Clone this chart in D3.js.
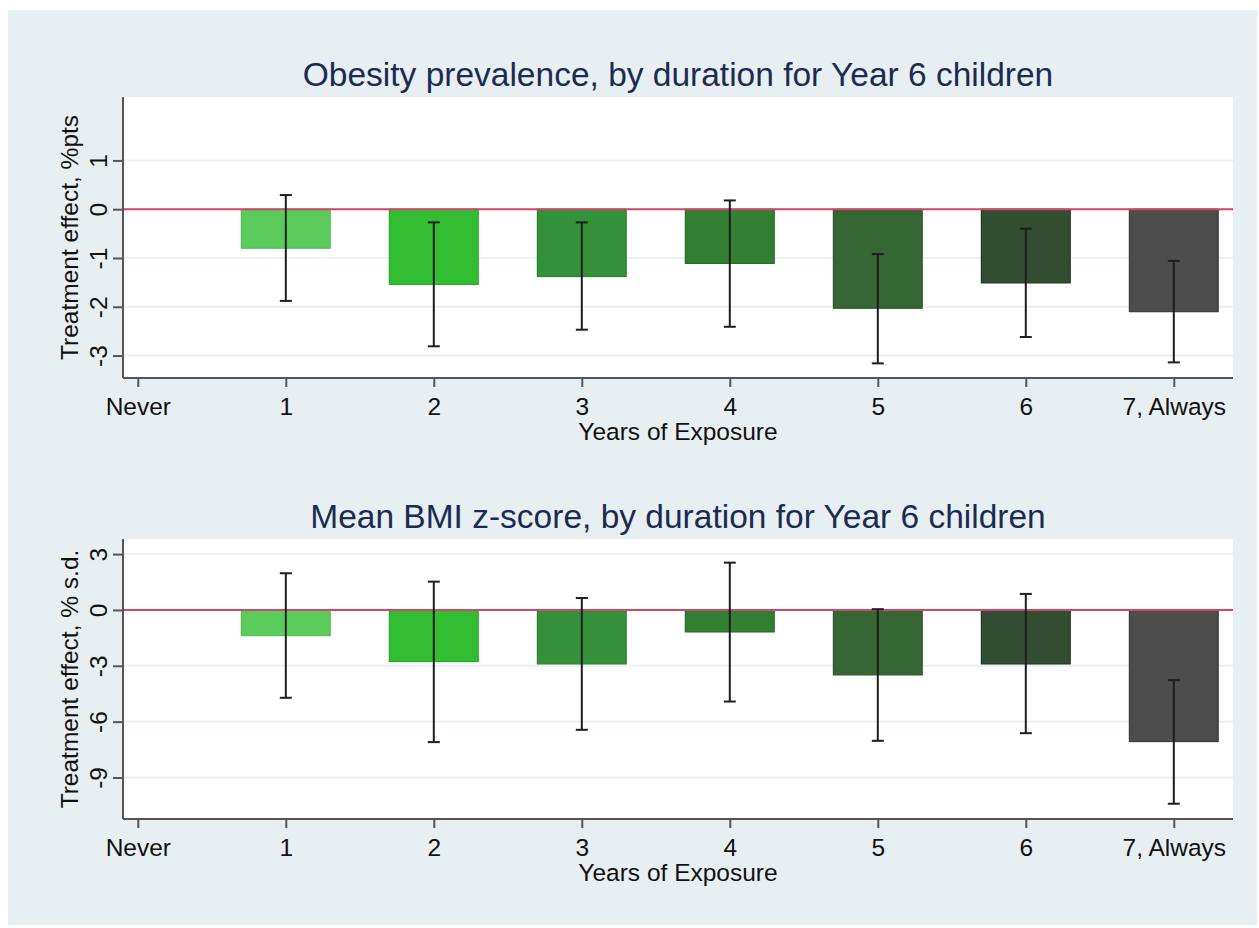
<!DOCTYPE html>
<html>
<head>
<meta charset="utf-8">
<script src="https://cdn.jsdelivr.net/npm/d3@7"></script>
<style>
  html, body { margin: 0; padding: 0; background: #ffffff; }
  text { font-family: "Liberation Sans", Arial, sans-serif; }
</style>
</head>
<body>
<div id="chart"></div>
<script>
// categories on the x axis (0 = Never ... 7 = Always)
var xTickValues = [0, 1, 2, 3, 4, 5, 6, 7];
var xTickLabels = ["Never", "1", "2", "3", "4", "5", "6", "7, Always"];
var years = [1, 2, 3, 4, 5, 6, 7];

// panel 1: obesity prevalence, %pts
var obesityEffect = [-0.80, -1.54, -1.38, -1.11, -2.03, -1.51, -2.10];
var obesityLow    = [-1.88, -2.81, -2.47, -2.41, -3.16, -2.62, -3.14];
var obesityHigh   = [ 0.29, -0.27, -0.27,  0.18, -0.92, -0.40, -1.06];
var obesityTicks  = [1, 0, -1, -2, -3];

// panel 2: mean BMI z-score, % s.d.
var bmiEffect = [-1.38, -2.77, -2.90, -1.18, -3.49, -2.90, -7.07];
var bmiLow    = [-4.72, -7.10, -6.44, -4.92, -7.03, -6.62, -10.41];
var bmiHigh   = [ 1.97,  1.52,  0.64,  2.54,  0.04,  0.86, -3.77];
var bmiTicks  = [3, 0, -3, -6, -9];

var barFill   = ["#5bcb5b", "#33bd33", "#33913a", "#337f33", "#356634", "#334d33", "#4d4d4d"];
var barStroke = ["#52c252", "#22ad22", "#2a8530", "#1f6e1f", "#2a5a2a", "#1f351f", "#3d3d3d"];

var width = 1259, height = 928;
var labelSize = "24.5px";

var svg = d3.select("#chart").append("svg")
    .attr("width", width)
    .attr("height", height);

svg.append("rect")
    .attr("x", 8).attr("y", 10)
    .attr("width", 1249).attr("height", 915)
    .attr("fill", "#e8eff2");

var x = d3.scaleLinear().domain([-0.1, 7.4]).range([123, 1233]);
var barW = x(0.6) - x(0);

var panels = [
  { title: "Obesity prevalence, by duration for Year 6 children",
    ytitle: "Treatment effect, %pts",
    top: 97, bottom: 378, domain: [-3.46, 2.3], ticks: obesityTicks,
    effect: obesityEffect, lo: obesityLow, hi: obesityHigh },
  { title: "Mean BMI z-score, by duration for Year 6 children",
    ytitle: "Treatment effect, % s.d.",
    top: 539, bottom: 819, domain: [-11.23, 3.81], ticks: bmiTicks,
    effect: bmiEffect, lo: bmiLow, hi: bmiHigh }
];

panels.forEach(function(p) {
  var y = d3.scaleLinear().domain(p.domain).range([p.bottom, p.top]);
  var g = svg.append("g");

  g.append("rect")
      .attr("x", x.range()[0]).attr("y", p.top)
      .attr("width", x.range()[1] - x.range()[0])
      .attr("height", p.bottom - p.top)
      .attr("fill", "#ffffff");

  // gridlines
  g.selectAll("line.grid").data(p.ticks).enter()
    .append("line")
      .attr("class", "grid")
      .attr("x1", x.range()[0]).attr("x2", x.range()[1])
      .attr("y1", function(d) { return y(d); })
      .attr("y2", function(d) { return y(d); })
      .attr("stroke", "#eaf2f3")
      .attr("stroke-width", 2);

  // bars
  g.selectAll("rect.bar").data(years).enter()
    .append("rect")
      .attr("class", "bar")
      .attr("x", function(d) { return x(d) - barW / 2; })
      .attr("y", y(0))
      .attr("width", barW)
      .attr("height", function(d, i) { return y(p.effect[i]) - y(0); })
      .attr("fill", function(d, i) { return barFill[i]; })
      .attr("stroke", function(d, i) { return barStroke[i]; })
      .attr("stroke-width", 1.2);

  // zero line
  g.append("line")
      .attr("x1", x.range()[0]).attr("x2", x.range()[1])
      .attr("y1", y(0)).attr("y2", y(0))
      .attr("stroke", "#d4476c")
      .attr("stroke-width", 2);

  // error bars
  var eb = g.selectAll("g.err").data(years).enter()
    .append("g").attr("class", "err")
      .attr("stroke", "#1e1e1e")
      .attr("stroke-width", 2);
  eb.append("line")
      .attr("x1", function(d) { return x(d); })
      .attr("x2", function(d) { return x(d); })
      .attr("y1", function(d, i) { return y(p.hi[i]); })
      .attr("y2", function(d, i) { return y(p.lo[i]); });
  eb.append("line")
      .attr("x1", function(d) { return x(d) - 6; })
      .attr("x2", function(d) { return x(d) + 6; })
      .attr("y1", function(d, i) { return y(p.hi[i]); })
      .attr("y2", function(d, i) { return y(p.hi[i]); });
  eb.append("line")
      .attr("x1", function(d) { return x(d) - 6; })
      .attr("x2", function(d) { return x(d) + 6; })
      .attr("y1", function(d, i) { return y(p.lo[i]); })
      .attr("y2", function(d, i) { return y(p.lo[i]); });

  // y axis
  var yAxis = d3.axisLeft(y).tickValues(p.ticks).tickSize(10).tickPadding(6)
      .tickFormat(function(d) { return String(d); });
  var ya = g.append("g")
      .attr("transform", "translate(" + x.range()[0] + ",0)")
      .call(yAxis);
  ya.select(".domain").attr("stroke", "#555").attr("stroke-width", 2)
      .attr("d", "M0," + p.top + "V" + p.bottom);
  ya.selectAll(".tick line").attr("stroke", "#555").attr("stroke-width", 2);
  ya.selectAll(".tick text")
      .attr("x", null).attr("dy", null)
      .attr("transform", "translate(-16,0) rotate(-90)")
      .attr("text-anchor", "middle")
      .attr("fill", "#111")
      .style("font-size", labelSize)
      .style("font-family", "Liberation Sans, Arial, sans-serif");

  // x axis
  var xAxis = d3.axisBottom(x).tickValues(xTickValues).tickSize(9).tickPadding(11)
      .tickFormat(function(d, i) { return xTickLabels[i]; });
  var xa = g.append("g")
      .attr("transform", "translate(0," + p.bottom + ")")
      .call(xAxis);
  xa.select(".domain").attr("stroke", "#555").attr("stroke-width", 2)
      .attr("d", "M" + x.range()[0] + ",0H" + x.range()[1]);
  xa.selectAll(".tick line").attr("stroke", "#555").attr("stroke-width", 2);
  xa.selectAll(".tick text")
      .attr("fill", "#111")
      .style("font-size", labelSize)
      .style("font-family", "Liberation Sans, Arial, sans-serif");

  // titles
  g.append("text")
      .attr("x", 678).attr("y", p.top - 11)
      .attr("text-anchor", "middle")
      .attr("fill", "#1c2b50")
      .style("font-size", "33.5px")
      .text(p.title);

  g.append("text")
      .attr("x", 678).attr("y", p.bottom + 62)
      .attr("text-anchor", "middle")
      .attr("fill", "#111")
      .style("font-size", labelSize)
      .text("Years of Exposure");

  g.append("text")
      .attr("transform", "translate(78," + ((p.top + p.bottom) / 2) + ") rotate(-90)")
      .attr("text-anchor", "middle")
      .attr("fill", "#111")
      .style("font-size", labelSize)
      .text(p.ytitle);
});
</script>
</body>
</html>
